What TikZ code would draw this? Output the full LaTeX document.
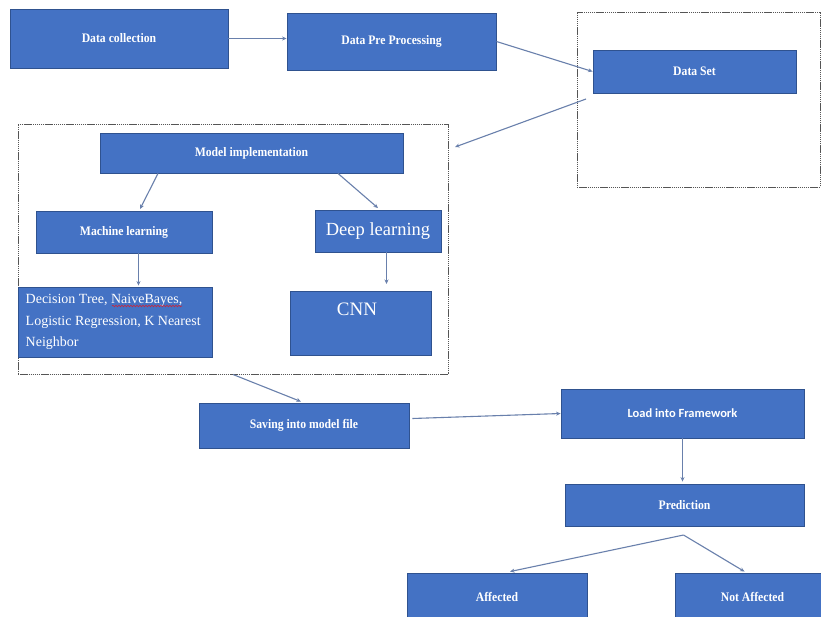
\documentclass[tikz,border=0pt]{standalone}
\usepackage{fontspec}
\setmainfont{Liberation Serif}
\newfontfamily\boldcond[FakeStretch=0.9]{Liberation Serif}
\newfontfamily\calfont{Carlito}
\usetikzlibrary{arrows.meta,calc,decorations.pathmorphing}
\definecolor{boxfill}{RGB}{68,114,196}
\definecolor{boxline}{RGB}{47,82,143}
\definecolor{arrowcol}{RGB}{105,128,172}
\definecolor{framecol}{RGB}{85,85,85}
\definecolor{spellred}{RGB}{200,40,60}
\tikzset{
  box/.style={draw=boxline, fill=boxfill, line width=0.9pt, inner sep=0pt, text=white, align=center},
  btxt/.style={font=\boldcond\bfseries\fontsize{13}{15}\selectfont},
  frame/.style={draw=framecol, line width=1pt, dash pattern=on 1.4pt off 0.7pt, inner sep=0pt},
  conn/.style={draw=arrowcol, line width=1.1pt, -{Stealth[length=4.5pt,width=4pt]}},
  spell/.style={draw=spellred, line width=0.6pt, decorate, decoration={snake, amplitude=0.8pt, segment length=3pt}}
}
\begin{document}
\begin{tikzpicture}[x=1pt,y=-1pt]
\useasboundingbox (0,0) rectangle (821,616);
\clip (0,0) rectangle (821,616);
\fill[white] (0,0) rectangle (821,616);
% dashed frames
\node[frame, minimum width=243, minimum height=175] (dsframe) at (698.5,99.5) {};
\node[frame, minimum width=430, minimum height=250] (mframe) at (233,249) {};
% boxes
\node[box, btxt, minimum width=218, minimum height=59] (dc) at (119,38.5) {Data collection};
\node[box, btxt, minimum width=209, minimum height=57] (dpp) at (391.5,41.5) {Data Pre Processing};
\node[box, btxt, minimum width=203, minimum height=43] (ds) at (694.5,71.5) {Data Set};
\node[box, btxt, minimum width=303, minimum height=40] (mi) at (251.5,153) {Model implementation};
\node[box, btxt, minimum width=176, minimum height=42] (ml) at (124,232) {Machine learning};
\node[box, font=\fontsize{18.5}{21}\selectfont, minimum width=126, minimum height=42] (dl) at (378,231) {Deep learning};
\node[box, minimum width=194, minimum height=70] (dt) at (115,322) {};
\node[text=white, anchor=west, align=left, inner sep=0pt, font=\fontsize{14}{21.5}\selectfont] (dttext) at (25.5,322)
  {Decision Tree, NaiveBayes,\\Logistic Regression, K Nearest\\Neighbor};
\coordinate (spA) at (112,306);
\coordinate (spB) at (182,306);
\draw[spell] (spA) -- (spB);
\node[box, minimum width=141, minimum height=64] (cnn) at (360.5,323) {};
\node[text=white, inner sep=0pt, font=\fontsize{19}{22}\selectfont] (cnntext) at (357,309) {CNN};
\node[box, btxt, minimum width=210, minimum height=45] (sv) at (304,425.5) {Saving into model file};
\node[box, font=\calfont\bfseries\fontsize{12.5}{15}\selectfont, minimum width=243, minimum height=49] (ld) at (682.5,413.5) {Load into Framework};
\node[box, btxt, minimum width=239, minimum height=42] (pr) at (684.5,505) {Prediction};
\node[box, btxt, minimum width=180, minimum height=47] (af) at (497,596.5) {Affected};
\node[box, btxt, minimum width=155, minimum height=47] (na) at (752.5,596.5) {Not Affected};
% helper coordinates
\coordinate (dsout) at (586,99);
\coordinate (mfin) at (455,147);
\coordinate (cnnin) at (386.5,284);
\coordinate (prout) at (683.5,535);
% connectors
\draw[conn] (dc.east) -- (dc.east -| dpp.west);
\draw[conn] (dpp.east) -- (ds.west);
\draw[conn] (dsout) -- (mfin);
\draw[conn] ([xshift=-93.5pt]mi.south) -- ([xshift=16pt,yshift=1.5pt]ml.north);
\draw[conn] ([xshift=86.5pt]mi.south) -- ([yshift=1.5pt]dl.north);
\draw[conn] ([xshift=14.5pt]ml.south) -- ([xshift=14.5pt,yshift=1pt]ml.south |- dt.north);
\draw[conn] (dl.south -| cnnin) -- (cnnin);
\draw[conn] (mframe.south) -- ([xshift=-3pt,yshift=1pt]sv.north);
\draw[conn] ([xshift=3pt,yshift=7pt]sv.east) -- (ld.west);
\draw[conn] (ld.south) -- ([yshift=2pt]ld.south |- pr.north);
\draw[conn] (prout) -- ([xshift=13pt,yshift=1pt]af.north);
\draw[conn] (prout) -- ([xshift=-8pt,yshift=1pt]na.north);
\end{tikzpicture}
\end{document}
